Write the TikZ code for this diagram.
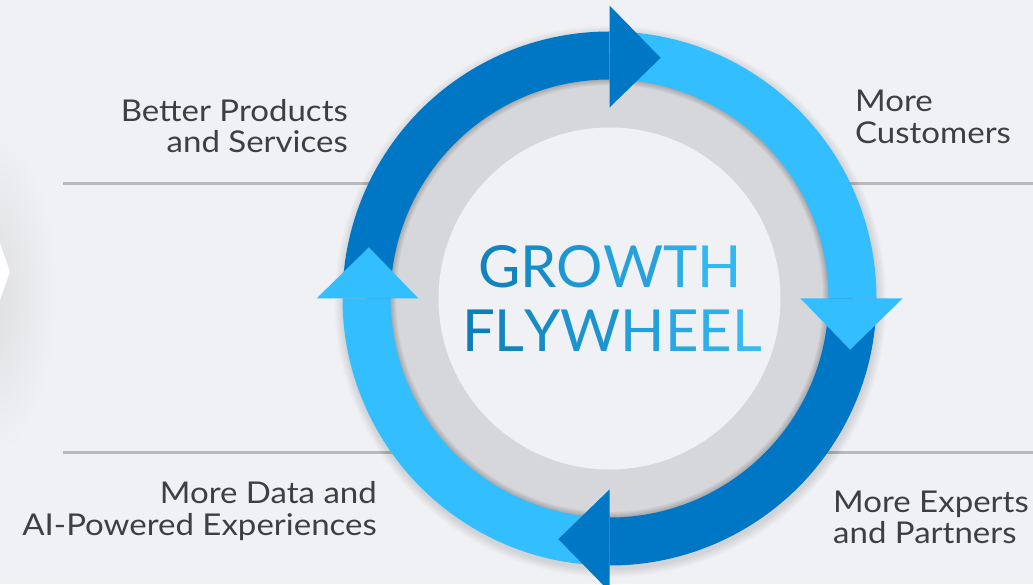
\documentclass[tikz,border=0pt]{standalone}
\usepackage{fontspec}
\setmainfont{Lato}
\newfontfamily\labelfont[FakeStretch=1.1]{Lato}
\definecolor{bg}{HTML}{EFF1F5}
\definecolor{ringdark}{HTML}{0077C5}
\definecolor{ringlight}{HTML}{33BFFF}
\definecolor{hubgrey}{HTML}{D6D7DB}
\definecolor{rulegrey}{HTML}{B9BABE}
\definecolor{labelgrey}{HTML}{3E3F43}
\definecolor{titledark}{HTML}{0C7BB5}
\definecolor{titlelight}{HTML}{38BFFA}
% one letter of the title, tinted between the two title colours
\newcommand{\gradletter}[2]{\textcolor{titlelight!#1!titledark}{#2}}
\tikzset{
  label/.style={inner sep=0pt, text=labelgrey, font=\labelfont\fontsize{30}{34}\selectfont},
  title/.style={inner sep=0pt, font=\fontsize{58}{66}\selectfont},
  rule/.style={draw=rulegrey, line width=3pt},
  band/.style={line width=48pt},
}
\begin{document}
\begin{tikzpicture}[x=1pt,y=1pt]
\useasboundingbox (0,0) rectangle (1033,584);
\fill[bg] (0,0) rectangle (1033,584);

% cut-off chevron at the left edge with its soft shadow
\shade[inner color=black!13, outer color=bg] (-12,292) ellipse (70 and 165);
\fill[white] (0,341) -- (10,312) -- (0,284) -- cycle;

% separator rules
\draw[rule] (63,400) -- (1033,400);
\draw[rule] (63,132) -- (1033,132);

\coordinate (C) at (609.5,285.5);

% soft shadow under the wheel
\foreach \k in {1,...,10}
  \fill[black, opacity=0.012] ([shift={(1,-3)}]C) circle ({267+\k*0.9});

% grey hub ring with the shadow cast by the coloured band
\fill[hubgrey] (C) circle (219);
\foreach \k in {1,...,9}
  \draw[black, opacity=0.022, line width=\k*1.3pt] (C) circle (219);
\fill[bg] (C) circle (171);

% four coloured quarter bands
\draw[band, ringdark]  ([shift={(180:243)}]C) arc[start angle=180, end angle=90,   radius=243];
\draw[band, ringlight] ([shift={(90:243)}]C)  arc[start angle=90,  end angle=0,    radius=243];
\draw[band, ringdark]  ([shift={(0:243)}]C)   arc[start angle=0,   end angle=-90,  radius=243];
\draw[band, ringlight] ([shift={(-90:243)}]C) arc[start angle=-90, end angle=-180, radius=243];

% arrowheads, each overlapping the following band
\fill[ringdark]  ([shift={(90:191)}]C)  -- ([shift={(90:293)}]C)  -- ([shift={(78:246)}]C)  -- cycle;
\fill[ringlight] ([shift={(0:191)}]C)   -- ([shift={(0:293)}]C)   -- ([shift={(-12:246)}]C) -- cycle;
\fill[ringdark]  ([shift={(-90:191)}]C) -- ([shift={(-90:293)}]C) -- ([shift={(-102:246)}]C) -- cycle;
\fill[ringlight] ([shift={(180:191)}]C) -- ([shift={(180:293)}]C) -- ([shift={(168:246)}]C) -- cycle;

% centre title
\node[title, anchor=base] (growth) at (610,296)
  {\gradletter{12}{G}\gradletter{26}{R}\gradletter{40}{O}\gradletter{58}{W}\gradletter{74}{T}\gradletter{88}{H}};
\node[title, anchor=base] (flywheel) at (612,232)
  {\gradletter{4}{F}\gradletter{14}{L}\gradletter{23}{Y}\gradletter{37}{W}\gradletter{53}{H}\gradletter{65}{E}\gradletter{76}{E}\gradletter{92}{L}};

% stage labels
\node[label, anchor=base east] (bp1) at (348,462) {Better Products};
\node[label, anchor=base east] (bp2) at (348,431) {and Services};
\node[label, anchor=base west] (mc1) at (855,472) {More};
\node[label, anchor=base west] (mc2) at (855,440) {Customers};
\node[label, anchor=base east] (md1) at (377,81) {More Data and};
\node[label, anchor=base east] (md2) at (377,49) {AI-Powered Experiences};
\node[label, anchor=base west] (me1) at (833,72) {More Experts};
\node[label, anchor=base west] (me2) at (833,41) {and Partners};
\end{tikzpicture}
\end{document}
